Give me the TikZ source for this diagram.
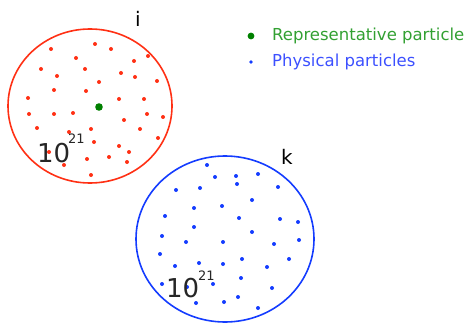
\documentclass[tikz,border=0pt]{standalone}
\usepackage{fontspec}
\setmainfont{DejaVu Sans}
\definecolor{cellred}{RGB}{255,48,20}
\definecolor{cellblue}{RGB}{20,60,255}
\definecolor{repgreen}{RGB}{0,128,0}
\definecolor{leggreen}{RGB}{50,160,50}
\definecolor{legblue}{RGB}{60,80,255}
\begin{document}
\begin{tikzpicture}[x=1pt,y=-1pt,
  cell/.style={line width=1.6pt},
  lbl/.style={font=\fontsize{20}{22}\selectfont,anchor=base,inner sep=0pt},
  num/.style={font=\fontsize{26}{28}\selectfont,text=black!85,anchor=base west,inner sep=0pt},
  expo/.style={font=\fontsize{13}{14}\selectfont,text=black!85,anchor=base west,inner sep=0pt},
  legtext/.style={font=\fontsize{16.5}{18}\selectfont,anchor=west,inner sep=0pt}]
\useasboundingbox (0,0) rectangle (470,323);
% cell i
\draw[cell,cellred] (90,106) ellipse (82 and 77);
\foreach \x/\y in {95/44,51/49,111/49,76/58,134/61,148/56,41/69,85/69,57/76,121/73,
  135/77,99/82,157/81,54/90,86/91,28/98,119/99,144/99,29/114,54/114,73/113,147/114,
  163/117,124/120,37/128,91/129,69/132,140/129,158/138,94/142,119/146,129/152,
  49/152,87/159,109/157,127/162,64/165,91/175}
  \fill[cellred] (\x,\y) circle (2);
\fill[repgreen] (99,107) circle (3.8);
\node[lbl] (ilabel) at (138,27) {i};
\node[num] (inum) at (37,162) {10};
\node[expo] (iexp) at (68,143) {21};
% cell k
\draw[cell,cellblue] (225,239) ellipse (89 and 83);
\foreach \x/\y in {207/165,215/177,236/176,258/174,237/184,176/190,200/188,278/187,
  252/200,222/206,194/208,165/216,239/218,280/219,298/222,194/227,252/232,162/236,
  186/242,223/242,274/244,299/240,160/254,242/259,289/259,175/266,199/263,223/264,
  267/267,241/278,162/284,187/287,213/284,272/288,238/297,224/302,196/303,258/308}
  \fill[cellblue] (\x,\y) circle (2);
\node[lbl] (klabel) at (287,164) {k};
\node[num] (knum) at (166,297) {10};
\node[expo] (kexp) at (198,280) {21};
% legend
\fill[repgreen] (251,36) circle (3.4);
\node[legtext,text=leggreen] (repleg) at (272,36) {Representative particle};
\fill[cellblue] (251,62) circle (1.8);
\node[legtext,text=legblue] (physleg) at (272,62) {Physical particles};
\end{tikzpicture}
\end{document}
